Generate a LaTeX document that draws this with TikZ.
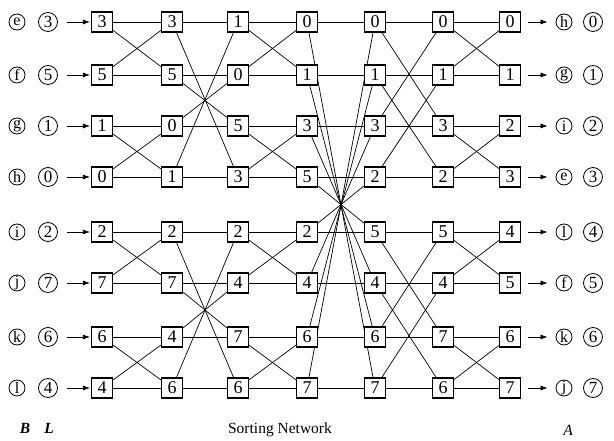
\documentclass[tikz,border=0pt]{standalone}
\usepackage{fontspec}
\setmainfont{Liberation Serif}
\usetikzlibrary{arrows.meta,backgrounds}
\begin{document}
\begin{tikzpicture}[x=1pt,y=-1pt,
  cell/.style={draw,line width=1.1pt,fill=white,minimum width=21pt,minimum height=20pt,inner sep=0pt,font=\fontsize{18}{18}\selectfont},
  wire/.style={line width=0.7pt},
  lcirc/.style={draw,circle,line width=0.8pt,fill=white,minimum size=16pt,inner sep=0pt,font=\fontsize{16}{16}\selectfont},
  ncirc/.style={draw,circle,line width=0.8pt,fill=white,minimum size=19pt,inner sep=0pt,font=\fontsize{17}{17}\selectfont},
  arr/.style={line width=0.7pt,-{Latex[length=7pt,width=5pt]}},
  captxt/.style={anchor=base,inner sep=0pt,font=\fontsize{15.5}{15.5}\selectfont}
]
\useasboundingbox (0,0) rectangle (614,441);
\def\ylist{{22,75,126,177,232,283,337,388}}
% boxes
\foreach \v [count=\r from 0] in {3,5,1,0,2,7,6,4} {\pgfmathsetmacro\yy{\ylist[\r]}\node[cell] (b0\r) at (102,\yy) {\v};}
\foreach \v [count=\r from 0] in {3,5,0,1,2,7,4,6} {\pgfmathsetmacro\yy{\ylist[\r]}\node[cell] (b1\r) at (172,\yy) {\v};}
\foreach \v [count=\r from 0] in {1,0,5,3,2,4,7,6} {\pgfmathsetmacro\yy{\ylist[\r]}\node[cell] (b2\r) at (238,\yy) {\v};}
\foreach \v [count=\r from 0] in {0,1,3,5,2,4,6,7} {\pgfmathsetmacro\yy{\ylist[\r]}\node[cell] (b3\r) at (307,\yy) {\v};}
\foreach \v [count=\r from 0] in {0,1,3,2,5,4,6,7} {\pgfmathsetmacro\yy{\ylist[\r]}\node[cell] (b4\r) at (375,\yy) {\v};}
\foreach \v [count=\r from 0] in {0,1,3,2,5,4,7,6} {\pgfmathsetmacro\yy{\ylist[\r]}\node[cell] (b5\r) at (443,\yy) {\v};}
\foreach \v [count=\r from 0] in {0,1,2,3,4,5,6,7} {\pgfmathsetmacro\yy{\ylist[\r]}\node[cell] (b6\r) at (510,\yy) {\v};}
% wires
\begin{scope}[on background layer]
\foreach \a/\b in {0/1,1/2,2/3,3/4,4/5,5/6} {\foreach \i in {0,...,7} {\draw[wire] (b\a\i) -- (b\b\i);}}
\foreach \i/\j in {0/1,1/0,2/3,3/2,4/5,5/4,6/7,7/6} {\draw[wire] (b0\i) -- (b1\j); \draw[wire] (b2\i) -- (b3\j); \draw[wire] (b5\i) -- (b6\j);}
\foreach \i/\j in {0/3,1/2,2/1,3/0,4/7,5/6,6/5,7/4} {\draw[wire] (b1\i) -- (b2\j);}
\foreach \i/\j in {0/7,1/6,2/5,3/4,4/3,5/2,6/1,7/0} {\draw[wire] (b3\i) -- (b4\j);}
\foreach \i/\j in {0/2,1/3,2/0,3/1,4/6,5/7,6/4,7/5} {\draw[wire] (b4\i) -- (b5\j);}
\end{scope}
% inputs
\foreach \l/\n [count=\r from 0] in {e/3,f/5,g/1,h/0,i/2,j/7,k/6,l/4} {
  \pgfmathsetmacro\yy{\ylist[\r]}
  \node[lcirc] (la\r) at (17,\yy) {\l};
  \node[ncirc] (na\r) at (48,\yy) {\n};
  \draw[arr,shorten <=9pt,shorten >=1pt] (na\r) -- (b0\r);
}
% outputs
\foreach \l [count=\r from 0] in {h,g,i,e,l,f,k,j} {
  \pgfmathsetmacro\yy{\ylist[\r]}
  \node[lcirc] (lz\r) at (564,\yy) {\l};
  \node[ncirc] (nz\r) at (593,\yy) {\r};
  \draw[arr,shorten <=7pt,shorten >=8pt] (b6\r) -- (lz\r);
}
% captions
\node[captxt,font=\fontsize{15.5}{15.5}\selectfont\bfseries\itshape] (capb) at (25,433) {B};
\node[captxt,font=\fontsize{15.5}{15.5}\selectfont\bfseries\itshape] (capl) at (49,433) {L};
\node[captxt] (capt) at (280,433) {Sorting Network};
\node[captxt,font=\fontsize{15.5}{15.5}\selectfont\itshape] (capa) at (568,435) {A};
\end{tikzpicture}
\end{document}
